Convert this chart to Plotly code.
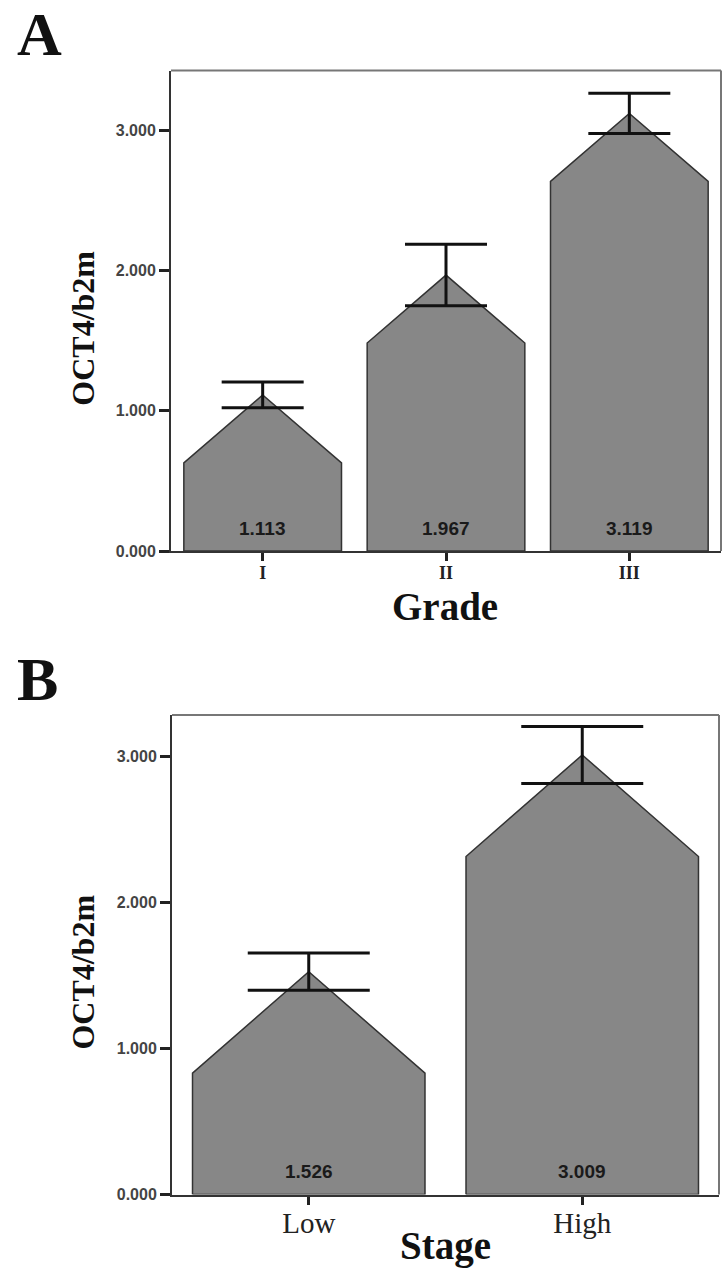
import plotly.graph_objects as go

# ---- data ----
grade_cats = ["I", "II", "III"]
grade_means = [1.113, 1.967, 3.119]
grade_err = [0.092, 0.219, 0.143]

stage_cats = ["Low", "High"]
stage_means = [1.526, 3.009]
stage_err = [0.128, 0.195]

y_ticks = [0, 1, 2, 3]

W, H = 728, 1282

def px_x(p):
    return p / W

def px_y(p):
    return 1 - p / H

BAR_FILL = "#878787"
BAR_LINE = "#333333"

fig = go.Figure()

panels = [
    dict(cats=grade_cats, means=grade_means, err=grade_err, xa="x", ya="y",
         box=(171, 721, 71, 555), ymax=3.425, bw=0.86, tip=0.484, cap=41,
         title="Grade", title_dy=56, standoff=-4,
         tickfont=dict(family="Liberation Serif", size=18, weight="bold", color="#222")),
    dict(cats=stage_cats, means=stage_means, err=stage_err, xa="x2", ya="y2",
         box=(172, 719, 720, 1203), ymax=3.283, bw=0.85, tip=0.695, cap=61,
         title="Stage", title_dy=52, standoff=-6,
         tickfont=dict(family="Liberation Serif", size=29, color="#222")),
]

layout_axes = {}
annotations = []
shapes = []

for k, p in enumerate(panels):
    xs = list(range(len(p["cats"])))
    hw = p["bw"] / 2
    for i, v in zip(xs, p["means"]):
        fig.add_trace(go.Scatter(
            x=[i - hw, i - hw, i, i + hw, i + hw, i - hw],
            y=[0, v - p["tip"], v, v - p["tip"], 0, 0],
            fill="toself", fillcolor=BAR_FILL, mode="lines",
            line=dict(color=BAR_LINE, width=1.5),
            xaxis=p["xa"], yaxis=p["ya"], showlegend=False, hoverinfo="skip"))
        annotations.append(dict(
            x=i, y=0, xref=p["xa"], yref=p["ya"], yshift=23, showarrow=False,
            text=f"{v:.3f}", font=dict(family="Liberation Sans", size=19, weight="bold", color="#1a1a1a")))
    fig.add_trace(go.Scatter(
        x=xs, y=p["means"], mode="markers", marker=dict(size=1, color="rgba(0,0,0,0)"),
        error_y=dict(type="data", array=p["err"], symmetric=True, color="#111",
                     thickness=3, width=p["cap"]),
        xaxis=p["xa"], yaxis=p["ya"], showlegend=False, hoverinfo="skip"))

    x0, x1, y0, y1 = p["box"]
    sfx = "" if k == 0 else "2"
    layout_axes["xaxis" + sfx] = dict(
        domain=[px_x(x0), px_x(x1)], range=[-0.5, len(xs) - 0.5],
        anchor="y" + sfx, tickvals=xs, ticktext=p["cats"], ticks="outside",
        ticklen=8, tickwidth=2.5, tickcolor="#222", showline=True, linecolor="#333",
        linewidth=2, showgrid=False, zeroline=False, tickfont=p["tickfont"],
        ticklabelstandoff=p["standoff"], fixedrange=True)
    layout_axes["yaxis" + sfx] = dict(
        domain=[px_y(y1), px_y(y0)], range=[0, p["ymax"]], anchor="x" + sfx,
        tickvals=y_ticks, tickformat=".3f", ticks="outside", ticklen=10, tickwidth=2.5,
        tickcolor="#222", showline=True, linecolor="#333", linewidth=2,
        showgrid=False, zeroline=False,
        tickfont=dict(family="Liberation Sans", size=16, weight="bold", color="#444"),
        fixedrange=True)
    # top and right frame lines
    shapes.append(dict(type="line", xref="paper", yref="paper",
                       x0=px_x(x0), x1=px_x(x1), y0=px_y(y0), y1=px_y(y0),
                       line=dict(color="#777", width=2)))
    shapes.append(dict(type="line", xref="paper", yref="paper",
                       x0=px_x(x1), x1=px_x(x1), y0=px_y(y0), y1=px_y(y1),
                       line=dict(color="#777", width=2)))
    # y title
    annotations.append(dict(
        x=px_x(83), y=px_y((y0 + y1) / 2 + 18), xref="paper", yref="paper",
        text="OCT4/b2m", textangle=-90, showarrow=False,
        font=dict(family="Liberation Serif", size=32, weight="bold", color="#111"),
        xanchor="center", yanchor="middle"))
    # x title
    annotations.append(dict(
        x=px_x(445), y=px_y(y1 + p["title_dy"]), xref="paper", yref="paper",
        text=p["title"], showarrow=False,
        font=dict(family="Liberation Serif", size=39, weight="bold", color="#111"),
        xanchor="center", yanchor="middle"))

annotations.append(dict(x=px_x(39), y=px_y(34), xref="paper", yref="paper", text="A",
                        showarrow=False, xanchor="center", yanchor="middle",
                        font=dict(family="Liberation Serif", size=62, weight="bold", color="#111")))
annotations.append(dict(x=px_x(37), y=px_y(684), xref="paper", yref="paper", text="B",
                        showarrow=False, xanchor="center", yanchor="middle",
                        font=dict(family="Liberation Serif", size=62, weight="bold", color="#111")))

fig.update_layout(
    width=W, height=H, autosize=False,
    margin=dict(l=0, r=0, t=0, b=0),
    paper_bgcolor="white", plot_bgcolor="white",
    annotations=annotations, shapes=shapes,
    **layout_axes)

fig.write_html("out.html", post_script="document.body.style.margin='0';",
               config={"displayModeBar": False})
